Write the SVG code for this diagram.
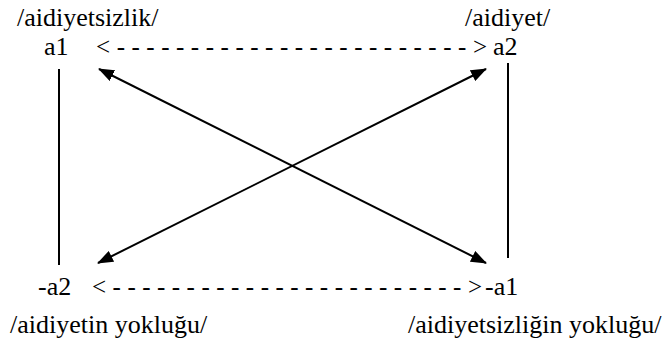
<svg xmlns="http://www.w3.org/2000/svg" width="668" height="338" viewBox="0 0 668 338">
  <style>
    .t { font-family: "Liberation Serif", serif; font-size: 26px; fill: #000; }
    .d { font-family: "Liberation Serif", serif; font-size: 25px; fill: #000; }
    .ln { stroke: #000; stroke-width: 2; fill: none; }
  </style>
  <defs>
    <marker id="ah" viewBox="0 0 16 12" refX="15" refY="6" markerWidth="16" markerHeight="12" markerUnits="userSpaceOnUse" orient="auto-start-reverse">
      <path d="M0,0 L16,6 L0,12 z" fill="#000"/>
    </marker>
  </defs>
  <rect width="668" height="338" fill="#fff"/>
  <g id="node-a1">
    <text class="t" x="17" y="26">/aidiyetsizlik/</text>
    <text class="t" x="44" y="55">a1</text>
  </g>
  <g id="node-a2">
    <text class="t" x="465" y="26">/aidiyet/</text>
    <text class="t" x="493" y="55">a2</text>
  </g>
  <g id="node-neg-a2">
    <text class="t" x="38" y="295">-a2</text>
    <text class="t" x="10" y="333">/aidiyetin yokluğu/</text>
  </g>
  <g id="node-neg-a1">
    <text class="t" x="485" y="295">-a1</text>
    <text class="t" x="408" y="333">/aidiyetsizliğin yokluğu/</text>
  </g>
  <g id="connectors">
    <text class="d" x="96" y="55" textLength="391" lengthAdjust="spacing">&lt; - - - - - - - - - - - - - - - - - - - - - - - - &gt;</text>
    <text class="d" x="92" y="295" textLength="390" lengthAdjust="spacing">&lt; - - - - - - - - - - - - - - - - - - - - - - - - &gt;</text>
    <line class="ln" x1="59" y1="69" x2="59" y2="265"/>
    <line class="ln" x1="508" y1="63" x2="508" y2="258"/>
    <line class="ln" x1="99" y1="69" x2="486" y2="263" marker-start="url(#ah)" marker-end="url(#ah)"/>
    <line class="ln" x1="98" y1="263" x2="486" y2="69" marker-start="url(#ah)" marker-end="url(#ah)"/>
  </g>
</svg>
